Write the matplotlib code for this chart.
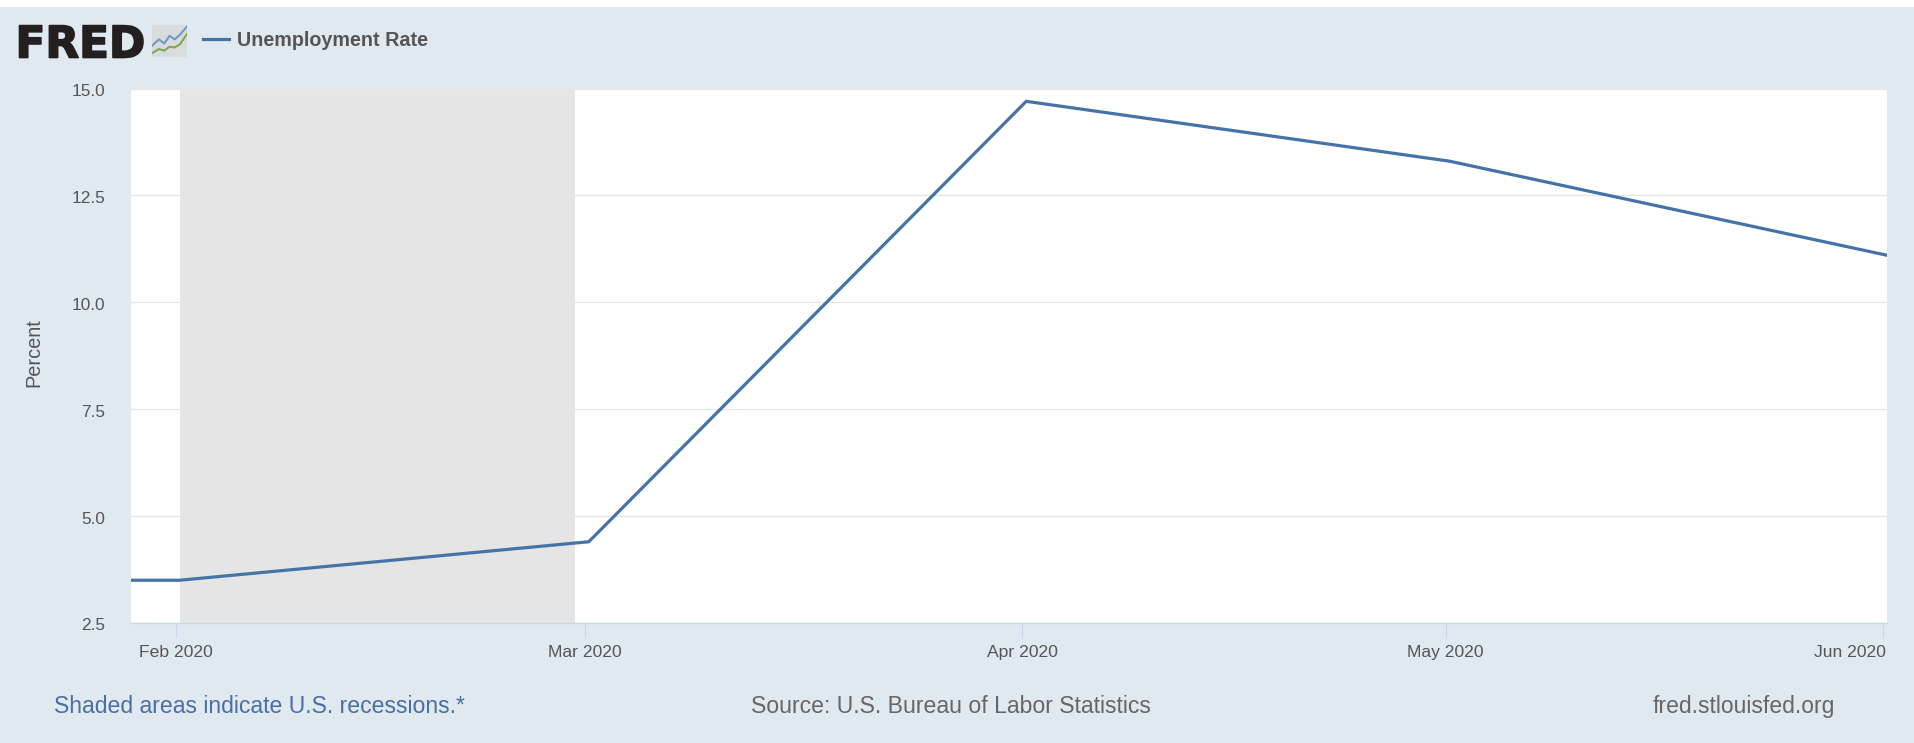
import numpy as np
import pandas as pd
import matplotlib
matplotlib.use('Agg')
import matplotlib.pyplot as plt
import matplotlib.dates as mdates
import matplotlib.patheffects as pe
from matplotlib.transforms import ScaledTranslation

plt.rcParams['font.family'] = ['Liberation Sans', 'DejaVu Sans']

# data
dates = pd.to_datetime(['2020-01-01', '2020-02-01', '2020-03-01', '2020-04-01', '2020-05-01', '2020-06-01'])
unrate = [3.5, 3.5, 4.4, 14.7, 13.3, 11.1]
recession = pd.to_datetime(['2020-02-01', '2020-02-29'])
tick_dates = pd.to_datetime(['2020-02-01', '2020-03-01', '2020-04-01', '2020-05-01', '2020-06-01'])
tick_labels = ['Feb 2020', 'Mar 2020', 'Apr 2020', 'May 2020', 'Jun 2020']
y_ticks = [2.5, 5.0, 7.5, 10.0, 12.5, 15.0]

W, H = 1915, 743
BG = '#e1e9f0'
LINE = '#4572a7'

fig = plt.figure(figsize=(W / 100, H / 100), dpi=100, facecolor='white')

# blue panel behind everything
panel = fig.add_axes([0, 0, 1, 1 - 7 / H], zorder=0)
panel.set_facecolor(BG)
panel.set_xticks([])
panel.set_yticks([])
for s in panel.spines.values():
    s.set_visible(False)

ax = fig.add_axes([131.3 / W, 1 - 623 / H, (1887 - 131.3) / W, (623 - 88.5) / H], zorder=2)
ax.set_facecolor('white')
ax.axvspan(recession[0], recession[1], color='#e5e5e5', lw=0, zorder=1)
ax.plot(dates, unrate, color=LINE, lw=2.3, zorder=3, solid_joinstyle='miter')

ax.set_ylim(2.5, 15)
ax.set_xlim(mdates.date2num(dates[1]) - 3.42, mdates.date2num(dates[-1]))
ax.set_yticks(y_ticks)
ax.set_yticklabels([f'{v:.1f}' for v in y_ticks])
ax.grid(axis='y', color='#e6e6e6', lw=1, zorder=2)
ax.set_axisbelow(False)
ax.grid(axis='x', visible=False)
for name in ['top', 'right', 'left']:
    ax.spines[name].set_visible(False)
ax.spines['bottom'].set_color('#ccd6eb')
ax.spines['bottom'].set_linewidth(1)

# the ticks sit a bit left of the data points
ax.set_xticks(mdates.date2num(tick_dates) - 0.27)
ax.set_xticklabels(tick_labels)
ax.tick_params(axis='x', length=11, width=0.8, color='#ccd6eb', labelsize=12.6, labelcolor='#555555', pad=5)
ax.tick_params(axis='y', length=0, labelsize=12.4, labelcolor='#555555', pad=19)
labs = ax.get_xticklabels()
labs[-1].set_ha('right')
labs[-1].set_transform(labs[-1].get_transform() + ScaledTranslation(3 / 100, 0, fig.dpi_scale_trans))
for lab in ax.get_yticklabels():
    lab.set_transform(lab.get_transform() + ScaledTranslation(0, -1.5 / 100, fig.dpi_scale_trans))
ax.set_ylabel('Percent', fontsize=14.4, color='#555555', labelpad=20, y=0.505)

# header
fred = fig.text(15.5 / W, 1 - 57.5 / H, 'FRED', fontsize=31.5, fontweight='bold', color='#231f20',
                va='baseline', family='DejaVu Sans')
fred.set_path_effects([pe.withStroke(linewidth=1.2, foreground='#231f20')])
fig.text(237 / W, 1 - 41 / H, 'Unemployment Rate', fontsize=14.25, fontweight='bold', color='#555555', va='center')
leg = fig.add_axes([203 / W, 1 - 39.7 / H, 26 / W, 1 / H], zorder=3)
leg.axis('off')
leg.plot([0, 1], [0, 0], color=LINE, lw=2.3, clip_on=False)
leg.set_xlim(0, 1)

# small logo picture
icon = fig.add_axes([152 / W, 1 - 57 / H, 35 / W, 32 / H], zorder=3)
icon.set_facecolor('#d8dcdd')
icon.set_xticks([])
icon.set_yticks([])
for s in icon.spines.values():
    s.set_visible(False)
icon.plot([0, .2, .35, .5, .65, .8, 1], [.35, .55, .42, .66, .55, .7, .95], color='#6f9bc4', lw=1.5)
icon.plot([0, .2, .35, .5, .65, .8, 1], [.12, .25, .2, .32, .3, .4, .72], color='#7fa858', lw=1.5)
icon.set_xlim(0, 1)
icon.set_ylim(0, 1)

# footer
fig.text(54 / W, 1 - 706.5 / H, 'Shaded areas indicate U.S. recessions.*', fontsize=16.55, color='#4a6fa5', va='center')
fig.text(751 / W, 1 - 706.5 / H, 'Source: U.S. Bureau of Labor Statistics', fontsize=16.55, color='#666666', va='center')
fig.text(1653 / W, 1 - 706.5 / H, 'fred.stlouisfed.org', fontsize=16.5, color='#666666', va='center')

fig.savefig('out.png', dpi=100, facecolor=fig.get_facecolor())
